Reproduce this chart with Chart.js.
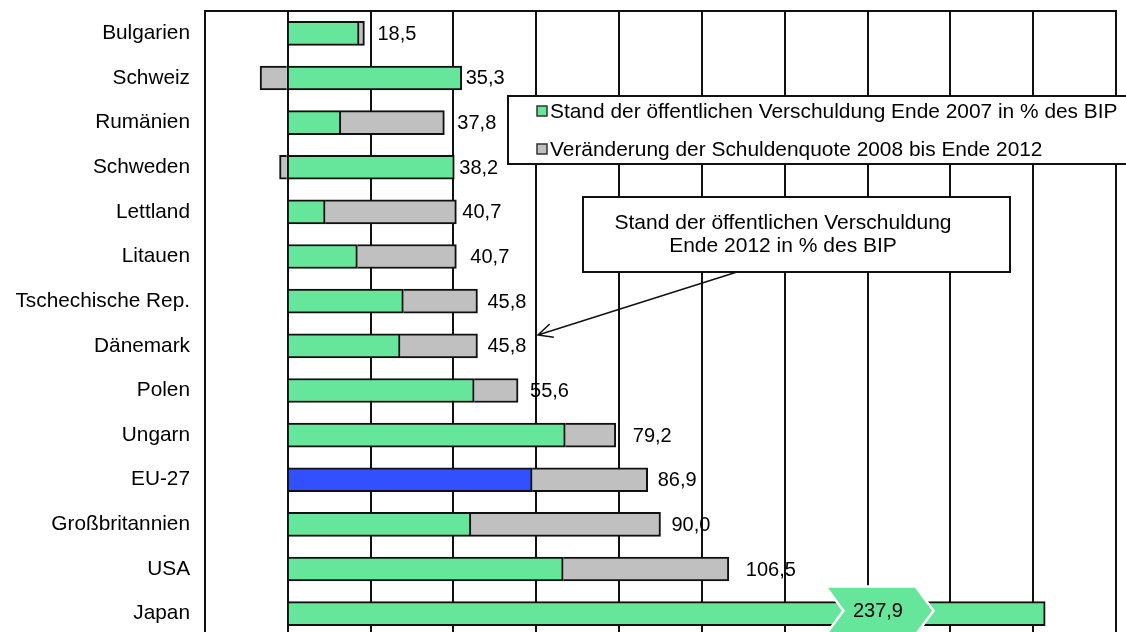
<!DOCTYPE html>
<html lang="de">
<head>
<meta charset="utf-8">
<title>Öffentliche Verschuldung in % des BIP</title>
<script src="https://cdn.jsdelivr.net/npm/chart.js@4.4.1/dist/chart.umd.min.js"></script>
<style>
  html, body { margin: 0; padding: 0; background: #fff; overflow: hidden; }
  #wrap { position: absolute; left: 0; top: 0; width: 1126px; height: 640px; }
</style>
</head>
<body>
<div id="wrap"><canvas id="chart" width="1126" height="640"></canvas></div>
<script>
// Länder bzw. Regionen, von oben nach unten
const kategorien = ['Bulgarien', 'Schweiz', 'Rumänien', 'Schweden', 'Lettland', 'Litauen',
  'Tschechische Rep.', 'Dänemark', 'Polen', 'Ungarn', 'EU-27', 'Großbritannien', 'USA', 'Japan'];

// Schuldenstand Ende 2007 in % des BIP
const stand2007 = [17.2, 42.0, 12.8, 40.2, 9.0, 16.8, 27.9, 27.1, 45.0, 67.0, 59.0, 44.2, 66.5, 237.9];

// Veränderung der Schuldenquote 2008 bis Ende 2012 (Prozentpunkte)
const veraenderung = [1.3, -6.7, 25.0, -2.0, 31.7, 23.9, 17.9, 18.7, 10.6, 12.2, 27.9, 45.8, 40.0, null];

const serienNamen = [
  'Stand der öffentlichen Verschuldung Ende 2007 in % des BIP',
  'Veränderung der Schuldenquote 2008 bis Ende 2012'
];
const hinweisText = ['Stand der öffentlichen Verschuldung', 'Ende 2012 in % des BIP'];

const X_MIN = -20, X_MAX = 200, X_STEP = 20;
// Achsenbruch: Werte oberhalb von "at" werden um "skip" verkürzt dargestellt
const ACHSENBRUCH = { at: 143, skip: 55 };

const GRUEN = '#66e69a', BLAU = '#3350ff', GRAU = '#c0c0c0', LINIE = '#111';
const FONT = '"Liberation Sans", Arial, Helvetica, sans-serif';
// Abstand der Summenbeschriftung rechts vom Balkenende (px)
const labelAbstand = [13, 4, 13, 5, 6, 14, 10, 10, 12, 17, 10, 11, 17];

Chart.defaults.font.family = FONT;
Chart.defaults.color = '#000';

// Lineare Achse mit Achsenbruch; Gitterlinien bleiben an ihren regulären Positionen
class BrokenLinearScale extends Chart.LinearScale {
  getPixelForValue(value) {
    const b = this.options.scaleBreak;
    let v = value;
    if (b && v > b.at) v = v > b.at + b.skip ? v - b.skip : b.at;
    return super.getPixelForValue(v);
  }
  getPixelForTick(index) {
    const t = this.ticks[index];
    return t ? super.getPixelForValue(t.value) : null;
  }
}
BrokenLinearScale.id = 'brokenLinear';
BrokenLinearScale.defaults = Chart.LinearScale.defaults;
Chart.register(BrokenLinearScale);

const fmt = v => v.toFixed(1).replace('.', ',');

// Rahmenlinie oben, Summenwerte, Bruchsymbol, Legende und Hinweis
const dekoration = {
  id: 'dekoration',
  afterDatasetsDraw(chart) {
    const { ctx, chartArea: a } = chart;
    const xs = chart.scales.x;
    ctx.save();
    ctx.strokeStyle = LINIE;
    ctx.lineWidth = 2;
    ctx.beginPath();
    ctx.moveTo(a.left - 1, a.top);
    ctx.lineTo(a.right + 1, a.top);
    ctx.stroke();

    const m0 = chart.getDatasetMeta(0).data;
    const m1 = chart.getDatasetMeta(1).data;
    ctx.textBaseline = 'middle';
    kategorien.forEach((k, i) => {
      const summe = stand2007[i] + (veraenderung[i] || 0);
      const e0 = m0[i];
      if (stand2007[i] > ACHSENBRUCH.at + ACHSENBRUCH.skip) {
        // Bruchsymbol mit Wert im Balken
        const cx = xs.getPixelForValue(ACHSENBRUCH.at);
        const cy = e0.y - 3;
        const hw = 52, hh = 23, tip = 17;
        ctx.beginPath();
        ctx.moveTo(cx - hw, cy - hh);
        ctx.lineTo(cx + hw - tip, cy - hh);
        ctx.lineTo(cx + hw, cy);
        ctx.lineTo(cx + hw - tip, cy + hh);
        ctx.lineTo(cx - hw, cy + hh);
        ctx.lineTo(cx - hw + tip, cy);
        ctx.closePath();
        ctx.strokeStyle = '#fff';
        ctx.lineWidth = 5;
        ctx.lineJoin = 'miter';
        ctx.stroke();
        ctx.fillStyle = GRUEN;
        ctx.fill();
        ctx.fillStyle = '#000';
        ctx.font = '20px ' + FONT;
        ctx.textAlign = 'center';
        ctx.fillText(fmt(summe), cx - 2, cy + 1);
        return;
      }
      let rechts = Math.max(e0.x, e0.base);
      const e1 = m1[i];
      if (e1 && veraenderung[i] != null) rechts = Math.max(rechts, e1.x, e1.base);
      ctx.fillStyle = '#000';
      ctx.font = '20px ' + FONT;
      ctx.textAlign = 'left';
      ctx.fillText(fmt(summe), rechts + labelAbstand[i], e0.y + 1);
    });
    ctx.restore();
  },
  afterDraw(chart) {
    const { ctx } = chart;
    ctx.save();
    // Legende
    const lx = 508, ly = 96, lw = 630, lh = 68;
    ctx.fillStyle = '#fff';
    ctx.fillRect(lx, ly, lw, lh);
    ctx.strokeStyle = LINIE;
    ctx.lineWidth = 2;
    ctx.strokeRect(lx, ly, lw, lh);
    ctx.font = '20.9px ' + FONT;
    ctx.textBaseline = 'middle';
    ctx.textAlign = 'left';
    const farben = [GRUEN, GRAU];
    serienNamen.forEach((name, j) => {
      const y = ly + 15 + j * 38;
      ctx.fillStyle = farben[j];
      ctx.fillRect(537, y - 5, 10, 10);
      ctx.lineWidth = 1.5;
      ctx.strokeStyle = '#333';
      ctx.strokeRect(537, y - 5, 10, 10);
      ctx.fillStyle = '#000';
      ctx.fillText(name, 550, y + 1);
    });

    // Hinweisbox mit Pfeil
    const bx = 583, by = 197, bw = 427, bh = 75;
    ctx.fillStyle = '#fff';
    ctx.fillRect(bx, by, bw, bh);
    ctx.strokeStyle = LINIE;
    ctx.lineWidth = 2;
    ctx.strokeRect(bx, by, bw, bh);
    ctx.fillStyle = '#000';
    ctx.textAlign = 'center';
    ctx.font = '21px ' + FONT;
    ctx.fillText(hinweisText[0], 783, 223);
    ctx.fillText(hinweisText[1], 783, 246);

    const sx = 737, sy = by + bh, tx = 538, ty = 335;
    ctx.lineWidth = 1.5;
    ctx.beginPath();
    ctx.moveTo(sx, sy);
    ctx.lineTo(tx, ty);
    const ang = Math.atan2(sy - ty, sx - tx);
    const len = 16, spread = 0.45;
    ctx.moveTo(tx + len * Math.cos(ang - spread), ty + len * Math.sin(ang - spread));
    ctx.lineTo(tx, ty);
    ctx.lineTo(tx + len * Math.cos(ang + spread), ty + len * Math.sin(ang + spread));
    ctx.stroke();
    ctx.restore();
  }
};

new Chart(document.getElementById('chart'), {
  type: 'bar',
  data: {
    labels: kategorien,
    datasets: [
      {
        label: serienNamen[0],
        data: stand2007,
        backgroundColor: kategorien.map(k => k === 'EU-27' ? BLAU : GRUEN),
        borderColor: LINIE,
        borderWidth: 2,
        barThickness: 24
      },
      {
        label: serienNamen[1],
        data: veraenderung,
        backgroundColor: GRAU,
        borderColor: LINIE,
        borderWidth: 2,
        barThickness: 24
      }
    ]
  },
  options: {
    indexAxis: 'y',
    responsive: false,
    animation: false,
    devicePixelRatio: 1,
    layout: { padding: { left: 0, right: 10, top: 11, bottom: 4 } },
    plugins: { legend: { display: false }, tooltip: { enabled: false } },
    scales: {
      x: {
        type: 'brokenLinear',
        stacked: true,
        min: X_MIN,
        max: X_MAX,
        scaleBreak: ACHSENBRUCH,
        ticks: { display: false, stepSize: X_STEP },
        grid: { color: LINIE, lineWidth: 2, drawTicks: false },
        border: { display: false },
        afterFit: s => {
          s.height = 0;
          s.paddingLeft = 0; s.paddingRight = 0; s.paddingTop = 0; s.paddingBottom = 0;
        }
      },
      y: {
        stacked: true,
        grid: { display: false, drawTicks: false },
        border: { display: false },
        ticks: { font: { size: 20.8 }, color: '#000', padding: 15 },
        afterFit: s => {
          s.width = 205;
          s.paddingTop = 0; s.paddingBottom = 0; s.paddingLeft = 0; s.paddingRight = 0;
        }
      }
    }
  },
  plugins: [dekoration]
});
</script>
</body>
</html>
